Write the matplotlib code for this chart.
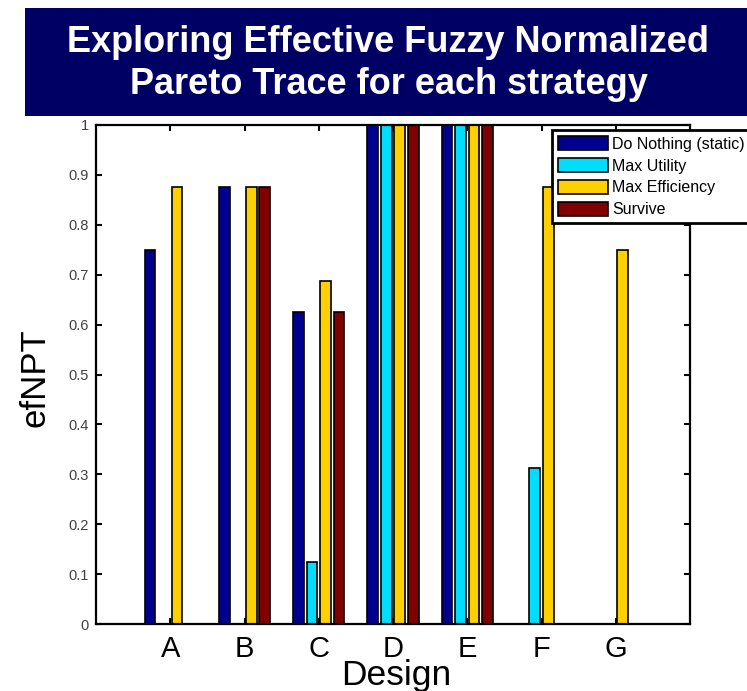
import matplotlib
matplotlib.use("Agg")
import matplotlib.pyplot as plt
from matplotlib.patches import Rectangle
import numpy as np

designs = ["A", "B", "C", "D", "E", "F", "G"]
strategies = ["Do Nothing (static)", "Max Utility", "Max Efficiency", "Survive"]
do_nothing = [0.75, 0.875, 0.625, 1.0, 1.0, 0.0, 0.0]
max_utility = [0.0, 0.0, 0.125, 1.0, 1.0, 0.3125, 0.0]
max_efficiency = [0.875, 0.875, 0.6875, 1.0, 1.0, 0.875, 0.75]
survive = [0.0, 0.875, 0.625, 1.0, 1.0, 0.0, 0.0]
yticks = [0, 0.1, 0.2, 0.3, 0.4, 0.5, 0.6, 0.7, 0.8, 0.9, 1]
ytick_labels = ["0", "0.1", "0.2", "0.3", "0.4", "0.5", "0.6", "0.7", "0.8", "0.9", "1"]

series = [do_nothing, max_utility, max_efficiency, survive]
colors = ["#00008F", "#00DDFF", "#FFD000", "#800000"]

plt.rcParams['font.family'] = ['Liberation Sans', 'DejaVu Sans']

W, H = 747, 691
fig = plt.figure(figsize=(W / 100, H / 100), dpi=100)

# title banner
fig.patches.append(Rectangle((25 / W, 1 - 116 / H), (W - 25) / W, (116 - 8) / H,
                             transform=fig.transFigure, facecolor="#000064",
                             edgecolor="none", zorder=0))
fig.text(388 / W, 1 - 43 / H, "Exploring Effective Fuzzy Normalized", color="white",
         fontsize=26, fontweight="bold", ha="center", va="center")
fig.text(389 / W, 1 - 85 / H, "Pareto Trace for each strategy", color="white",
         fontsize=26, fontweight="bold", ha="center", va="center")

ax = fig.add_axes([96 / W, 1 - 624 / H, (690 - 96) / W, (624 - 125) / H])

x = np.arange(1, len(designs) + 1)
n = len(series)
groupwidth = min(0.8, n / (n + 1.5))
step = groupwidth / n
bw = 0.8 * step
for i, (vals, c, name) in enumerate(zip(series, colors, strategies)):
    off = (i - (n - 1) / 2) * step
    ax.bar(x + off, vals, width=bw, color=c, edgecolor="black", linewidth=1.2,
           label=name, zorder=2)

ax.set_xlim(0, 8)
ax.set_ylim(0, 1)
ax.set_xticks(x)
ax.set_xticklabels(designs, fontsize=21)
ax.set_yticks(yticks)
ax.set_yticklabels(ytick_labels, fontsize=10.5, color="#404040")
ax.tick_params(axis="both", direction="in", top=True, right=True, length=4, width=1.5)
ax.tick_params(axis="x", pad=8)
ax.tick_params(axis="y", pad=5)
for s in ax.spines.values():
    s.set_linewidth(1.6)

ax.set_xlabel("Design", fontsize=25.5, va="center", ha="center")
ax.xaxis.set_label_coords((396 - 96) / 594, (624 - 675) / 499)
ax.set_ylabel("efNPT", fontsize=25, va="center", ha="center")
ax.yaxis.set_label_coords((35 - 96) / 594, (624 - 378) / 499)

leg = fig.legend(loc="upper left", bbox_to_anchor=(552 / W, 1 - 130 / H),
                 fontsize=11.5, handlelength=3.1, handleheight=1.0,
                 labelspacing=0.39, handletextpad=0.3, borderpad=0.38,
                 borderaxespad=0, fancybox=False, framealpha=1, edgecolor="black")
leg.get_frame().set_linewidth(2)

fig.savefig("out.png", dpi=100)
